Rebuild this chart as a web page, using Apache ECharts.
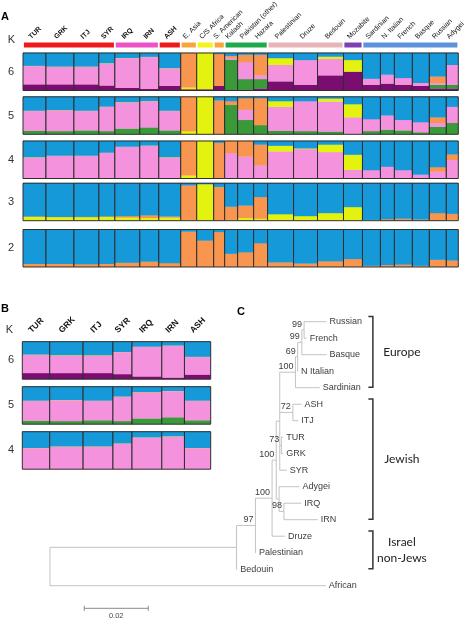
<!DOCTYPE html>
<html><head><meta charset="utf-8">
<script src="https://cdn.jsdelivr.net/npm/echarts@6/dist/echarts.min.js"></script>
<style>html,body{margin:0;padding:0;background:#fff}#c{width:468px;height:621px}</style>
</head><body><div id="c"></div>
<script>
// ---------------- DATA ----------------
const populations = ['TUR','GRK','ITJ','SYR','IRQ','IRN','ASH','E. Asia','C/S Africa','S. American','Kalash','Pakistan (other)','Hazara','Palestinian','Druze','Bedouin','Mozabite','Sardinian','N. Italian','French','Basque','Russian','Adygei'];
const sampleSizes = [23,28,25,16,25,19,22,16,17,11,13,16,14,26,24,26,19,18,14,18,17,17,12];
const jewishPops = [1,1,1,1,1,1,1,0,0,0,0,0,0,0,0,0,0,0,0,0,0,0,0];
const regionGroups = ['J','J','J','J','M','M','J','EA','AF','AM','CA','CA','CA','LV','LV','LV','NA','EU','EU','EU','EU','EU','EU'];
const kRowsA = [6,5,4,3,2];
const kRowsB = [6,5,4];

const componentsK2 = ['orange','blue'];
const componentsK3 = ['yellow','orange','blue'];
const componentsK4 = ['pink','yellow','orange','blue'];
const componentsK5 = ['green','pink','yellow','orange','blue'];
const componentsK6 = ['purple','green','pink','yellow','orange','blue'];

// proportions per population, bottom -> top, in component order
const admixK2 = [[.08,.92],[.08,.92],[.07,.93],[.08,.92],[.11,.89],[.14,.86],[.10,.90],[.94,.06],[.70,.30],[.93,.07],[.35,.65],[.39,.61],[.63,.37],[.12,.88],[.09,.91],[.15,.85],[.21,.79],[.03,.97],[.05,.95],[.06,.94],[.03,.97],[.19,.81],[.17,.83]];
const admixK3 = [[.10,.01,.89],[.09,.01,.90],[.09,.01,.90],[.10,.01,.89],[.08,.04,.88],[.07,.07,.86],[.08,.03,.89],[.02,.92,.06],[.97,0,.03],[0,.90,.10],[.02,.35,.63],[.07,.33,.60],[.05,.58,.37],[.17,0,.83],[.12,0,.88],[.20,0,.80],[.36,0,.64],[.02,0,.98],[0,.04,.96],[0,.05,.95],[0,.03,.97],[0,.20,.80],[.02,.16,.82]];
const admixK4 = [[.56,.006,0,.434],[.60,.006,0,.394],[.60,.006,0,.394],[.68,.006,0,.314],[.84,.006,0,.154],[.87,.006,0,.124],[.56,.006,0,.434],[0,.08,.92,0],[0,1,0,0],[0,0,.95,.05],[.67,0,.33,0],[.58,0,.42,0],[.35,0,.55,.10],[.72,.15,0,.13],[.78,.02,0,.20],[.70,.20,0,.10],[.23,.40,0,.37],[.22,0,0,.78],[.31,0,0,.69],[.22,0,0,.78],[.10,0,0,.90],[.18,0,.12,.70],[.49,0,.15,.36]];
const admixK5 = [[.09,.53,.006,0,.374],[.08,.56,.006,0,.354],[.10,.52,.006,0,.374],[.08,.65,.006,0,.264],[.15,.70,.006,0,.144],[.18,.70,.006,0,.114],[.10,.52,.006,0,.374],[0,0,.08,.92,0],[0,0,1,0,0],[0,0,0,.90,.10],[.78,0,0,.10,.12],[.38,.27,0,.31,.04],[.24,0,0,.72,.04],[.09,.64,.15,0,.12],[.08,.80,0,0,.12],[.07,.80,.08,0,.05],[0,.45,.35,0,.20],[.08,.32,0,0,.60],[.12,.38,0,0,.50],[.10,.28,0,0,.62],[.05,.27,0,0,.68],[.20,.10,0,.15,.55],[.30,.43,0,0,.27]];
const admixK6 = [[.16,0,.49,.006,0,.344],[.16,0,.47,.006,0,.364],[.16,0,.47,.006,0,.364],[.13,0,.59,.006,0,.274],[.07,0,.79,.006,0,.134],[.04,0,.85,.006,0,.104],[.12,0,.47,.006,0,.404],[.03,0,0,.05,.92,0],[.03,0,0,.97,0,0],[.12,0,0,0,.85,.03],[0,.82,.05,0,.05,.08],[0,.30,.45,0,.20,.05],[.05,.25,.10,0,.55,.05],[.24,0,.44,.18,0,.14],[.15,0,.66,0,0,.19],[.40,0,.44,.06,0,.10],[.50,0,0,.31,0,.19],[.15,0,.16,0,0,.69],[.18,0,.24,0,0,.58],[.15,0,.18,0,0,.67],[.12,0,.08,0,0,.80],[.05,.10,.05,0,.17,.63],[.05,.10,.53,0,0,.32]];

// tree (panel C): node, parent, branch length, bootstrap
const treeNodes = ['root','n1','African','n2','Bedouin','n3','Palestinian','n4','Druze','nEJ','nZ','nE','nA','nTG','SYR','n6','Sardinian','n7','N Italian','n8','Basque','Russian','French','ASH','ITJ','TUR','GRK','Adygei','nQ','IRQ','IRN'];
const treeParents = [null,'root','root','n1','n1','n2','n2','n3','n3','n4','n4','nEJ','nEJ','nEJ','nEJ','nE','nE','n6','n6','n7','n7','n8','n8','nA','nA','nTG','nTG','nZ','nZ','nQ','nQ'];
const treeBranchLengths = [0,.0583,.0862,.0059,.0002,.0052,.0002,.0013,.0040,.0011,.0009,.0049,.0041,.0005,.0022,.0007,.0076,.0013,.0001,.0007,.0077,.0070,.0008,.0027,.0017,.0006,.0006,.0064,.0015,.0054,.0106];
const treeBootstraps = [null,null,null,97,null,100,null,100,null,null,null,100,72,73,null,69,null,99,null,99,null,null,null,null,null,null,null,null,98,null,null];
const cladeLabels = ['Europe','Jewish','Israel\nnon-Jews'];
const cladeFirstLeaf = ['Russian','ASH','Druze'];
const cladeLastLeaf = ['Sardinian','IRN','Bedouin'];
const scaleBarLength = 0.02;

// ---------------- STYLE ----------------
const compColors = {blue:'#1699d9', pink:'#f592de', purple:'#7a0d70', green:'#3a9a3a', orange:'#f8954f', yellow:'#e4f20f'};
const headerColors = {J:'#f01a1a', M:'#ee52c8', EA:'#f8a43c', AF:'#f4f418', AM:'#f8a43c', CA:'#1eaa4c', LV:'#e7b5b7', NA:'#7b3fb6', EU:'#5b92da'};
const FONT = '"Liberation Sans", Arial, sans-serif';
const compByK = {2:componentsK2,3:componentsK3,4:componentsK4,5:componentsK5,6:componentsK6};
const admixByK = {2:admixK2,3:admixK3,4:admixK4,5:admixK5,6:admixK6};

// cumulative positions
const starts = []; let acc = 0;
sampleSizes.forEach(n => { starts.push(acc); acc += n; });
const totalA = acc;
const nB = 7;
const totalB = starts[nB];

const grids = [], xAxes = [], yAxes = [], series = [], graphics = [];
function addGrid(g, xmin, xmax, ymin, ymax, yInverse) {
  grids.push(Object.assign({show:false, containLabel:false}, g));
  const gi = grids.length - 1;
  xAxes.push({gridIndex:gi, type:'value', min:xmin, max:xmax, show:false});
  yAxes.push({gridIndex:gi, type:'value', min:ymin, max:ymax, show:false, inverse:!!yInverse});
  return gi;
}

function admixRender(K) {
  const comps = compByK[K], table = admixByK[K];
  return function(params, api) {
    const s = api.value(0), e = api.value(1), idx = api.value(2);
    const pb = api.coord([s, 0]), pt = api.coord([e, 1]);
    const x0 = pb[0], x1 = pt[0], yb = pb[1], yt = pt[1];
    const vals = table[idx]; const tot = vals.reduce((a,b)=>a+b,0);
    let c = 0; const children = [];
    vals.forEach((v, j) => {
      if (v <= 0) return;
      const ya = api.coord([s, c / tot])[1]; c += v;
      const yz = api.coord([s, c / tot])[1];
      children.push({type:'rect', shape:{x:x0, y:yz - 0.3, width:x1 - x0, height:ya - yz + 0.3}, style:{fill:compColors[comps[j]]}});
    });
    children.push({type:'rect', shape:{x:x0, y:yt, width:x1 - x0, height:yb - yt}, style:{fill:'none', stroke:'#2e2e2e', lineWidth:1}});
    return {type:'group', children};
  };
}

function cellData(n) {
  const d = [];
  for (let i = 0; i < n; i++) d.push([starts[i], starts[i] + sampleSizes[i], i]);
  return d;
}

// ---- Panel A rows
const rowTopsA = [53, 96.8, 141, 183.2, 229.5];
kRowsA.forEach((K, r) => {
  const gi = addGrid({left:23, top:rowTopsA[r], width:435.3, height:37.5}, 0, totalA, 0, 1);
  series.push({type:'custom', xAxisIndex:gi, yAxisIndex:gi, renderItem:admixRender(K), data:cellData(populations.length), silent:true});
  graphics.push({type:'text', x:11, y:rowTopsA[r] + 18.75, style:{text:String(K), font:'11px ' + FONT, fill:'#333', align:'center', verticalAlign:'middle'}});
});

// ---- Panel A header: coloured group bar + rotated labels
const gH = addGrid({left:23, top:42.5, width:435.3, height:5}, 0, totalA, 0, 1);
const runs = [];
regionGroups.forEach((g, i) => {
  if (runs.length && runs[runs.length - 1].g === g) runs[runs.length - 1].e = starts[i] + sampleSizes[i];
  else runs.push({g, s:starts[i], e:starts[i] + sampleSizes[i]});
});
const runKeys = Object.keys(headerColors);
series.push({type:'custom', xAxisIndex:gH, yAxisIndex:gH, silent:true,
  data:runs.map(r => [r.s, r.e, runKeys.indexOf(r.g)]),
  renderItem(params, api) {
    const a = api.coord([api.value(0), 0]), b = api.coord([api.value(1), 1]);
    return {type:'rect', shape:{x:a[0] + 0.9, y:b[1], width:b[0] - a[0] - 1.8, height:a[1] - b[1]}, style:{fill:headerColors[runKeys[api.value(2)]]}};
  }});
series.push({type:'custom', xAxisIndex:gH, yAxisIndex:gH, silent:true,
  data:populations.map((p, i) => [starts[i] + sampleSizes[i] / 2, i]),
  renderItem(params, api) {
    const i = api.value(1); const p = api.coord([api.value(0), 1]);
    return {type:'text', x:p[0] - 4.5, y:p[1] - 4.5, rotation:Math.PI / 4,
      style:{text:populations[i], font:(jewishPops[i] ? 'bold ' : '') + '7px ' + FONT, fill:'#111', align:'left', verticalAlign:'middle'}};
  }});

// ---- Panel B rows
const rowTopsB = [341.7, 386.7, 431.7];
kRowsB.forEach((K, r) => {
  const gi = addGrid({left:22.3, top:rowTopsB[r], width:188.4, height:37.5}, 0, totalB, 0, 1);
  series.push({type:'custom', xAxisIndex:gi, yAxisIndex:gi, renderItem:admixRender(K), data:cellData(nB), silent:true});
  graphics.push({type:'text', x:11, y:rowTopsB[r] + 18.75, style:{text:String(K), font:'11px ' + FONT, fill:'#333', align:'center', verticalAlign:'middle'}});
  if (r === 0) {
    series.push({type:'custom', xAxisIndex:gi, yAxisIndex:gi, silent:true,
      data:populations.slice(0, nB).map((p, i) => [starts[i] + sampleSizes[i] / 2, i]),
      renderItem(params, api) {
        const i = api.value(1); const q = api.coord([api.value(0), 1]);
        return {type:'text', x:q[0] - 6, y:q[1] - 10, rotation:Math.PI / 4,
          style:{text:populations[i], font:'bold 8.5px ' + FONT, fill:'#111', align:'left', verticalAlign:'middle'}};
      }});
  }
});

// ---- Panel C tree layout
const children = {}; treeNodes.forEach(n => children[n] = []);
treeParents.forEach((p, i) => { if (p) children[p].push(treeNodes[i]); });
const nodeX = {}, nodeY = {}; let leafCounter = 0;
(function walk(n, px) {
  const i = treeNodes.indexOf(n);
  nodeX[n] = px + treeBranchLengths[i];
  if (!children[n].length) { nodeY[n] = leafCounter++; return; }
  children[n].forEach(c => walk(c, nodeX[n]));
  const ch = children[n];
  nodeY[n] = (nodeY[ch[0]] + nodeY[ch[ch.length - 1]]) / 2;
})('root', 0);
const nLeaves = leafCounter;
const gT = addGrid({left:50, top:321.7, width:416, height:(nLeaves - 1) * 16.5}, 0, 0.13, 0, nLeaves - 1, true);
const treeData = treeNodes.map((n, i) => {
  const p = treeParents[i]; const ch = children[n];
  return [p ? nodeX[p] : nodeX[n], nodeX[n], nodeY[n], ch.length ? nodeY[ch[0]] : nodeY[n], ch.length ? nodeY[ch[ch.length - 1]] : nodeY[n], i];
});
const LINE = '#c3c3c3', TXT = '#3c3c3c';
series.push({type:'custom', xAxisIndex:gT, yAxisIndex:gT, silent:true, data:treeData,
  renderItem(params, api) {
    const i = api.value(5), n = treeNodes[i];
    const a = api.coord([api.value(0), api.value(2)]), b = api.coord([api.value(1), api.value(2)]);
    const els = [];
    if (treeParents[i]) els.push({type:'line', shape:{x1:a[0], y1:a[1], x2:b[0], y2:b[1]}, style:{stroke:LINE, lineWidth:1}});
    if (children[n].length) {
      const t = api.coord([api.value(1), api.value(3)]), u = api.coord([api.value(1), api.value(4)]);
      els.push({type:'line', shape:{x1:t[0], y1:t[1], x2:u[0], y2:u[1]}, style:{stroke:LINE, lineWidth:1}});
    } else {
      els.push({type:'text', x:b[0] + 3, y:b[1], style:{text:n, font:'9px ' + FONT, fill:TXT, align:'left', verticalAlign:'middle'}});
    }
    if (treeBootstraps[i] != null) {
      els.push({type:'text', x:b[0] - 2, y:b[1] - 5.5, style:{text:String(treeBootstraps[i]), font:'9px ' + FONT, fill:TXT, align:'right', verticalAlign:'middle'}});
    }
    return {type:'group', children:els};
  }});
// clade brackets
const bracketPos = 0.1009;
series.push({type:'custom', xAxisIndex:gT, yAxisIndex:gT, silent:true,
  data:cladeLabels.map((l, k) => [bracketPos, nodeY[cladeFirstLeaf[k]], nodeY[cladeLastLeaf[k]], k]),
  renderItem(params, api) {
    const k = api.value(3);
    const a = api.coord([api.value(0), api.value(1)]), b = api.coord([api.value(0), api.value(2)]);
    const x = a[0], y1 = a[1] - 5.2, y2 = b[1] - 0.5;
    return {type:'group', children:[
      {type:'polyline', shape:{points:[[x - 4.5, y1], [x, y1], [x, y2], [x - 4.5, y2]]}, style:{stroke:'#333', lineWidth:1.5, fill:null}},
      {type:'text', x:x + 29, y:(y1 + y2) / 2, style:{text:cladeLabels[k], font:'12px Lato, "Open Sans", sans-serif', fill:'#222', align:'center', verticalAlign:'middle', lineHeight:16}}
    ]};
  }});
// scale bar
series.push({type:'custom', xAxisIndex:gT, yAxisIndex:gT, silent:true,
  data:[[0.0107, nLeaves - 1 + 1.37]],
  renderItem(params, api) {
    const a = api.coord([api.value(0), api.value(1)]), b = api.coord([api.value(0) + scaleBarLength, api.value(1)]);
    return {type:'group', children:[
      {type:'line', shape:{x1:a[0], y1:a[1], x2:b[0], y2:b[1]}, style:{stroke:'#8a8a8a', lineWidth:1}},
      {type:'line', shape:{x1:a[0], y1:a[1] - 2.5, x2:a[0], y2:a[1] + 2.5}, style:{stroke:'#8a8a8a', lineWidth:1}},
      {type:'line', shape:{x1:b[0], y1:b[1] - 2.5, x2:b[0], y2:b[1] + 2.5}, style:{stroke:'#8a8a8a', lineWidth:1}},
      {type:'text', x:(a[0] + b[0]) / 2, y:a[1] + 7.5, style:{text:String(scaleBarLength), font:'7.5px ' + FONT, fill:'#444', align:'center', verticalAlign:'middle'}}
    ]};
  }});

// panel letters and K headers
graphics.push({type:'text', x:1, y:17, style:{text:'A', font:'bold 11px ' + FONT, fill:'#000', verticalAlign:'middle'}});
graphics.push({type:'text', x:1, y:308.5, style:{text:'B', font:'bold 11px ' + FONT, fill:'#000', verticalAlign:'middle'}});
graphics.push({type:'text', x:237, y:312, style:{text:'C', font:'bold 11px ' + FONT, fill:'#000', verticalAlign:'middle'}});
graphics.push({type:'text', x:11.5, y:39.5, style:{text:'K', font:'11px ' + FONT, fill:'#333', align:'center', verticalAlign:'middle'}});
graphics.push({type:'text', x:9.5, y:330, style:{text:'K', font:'11px ' + FONT, fill:'#333', align:'center', verticalAlign:'middle'}});

const chart = echarts.init(document.getElementById('c'), null, {renderer:'canvas'});
chart.setOption({animation:false, backgroundColor:'#fff', grid:grids, xAxis:xAxes, yAxis:yAxes, series, graphic:graphics});
</script></body></html>
